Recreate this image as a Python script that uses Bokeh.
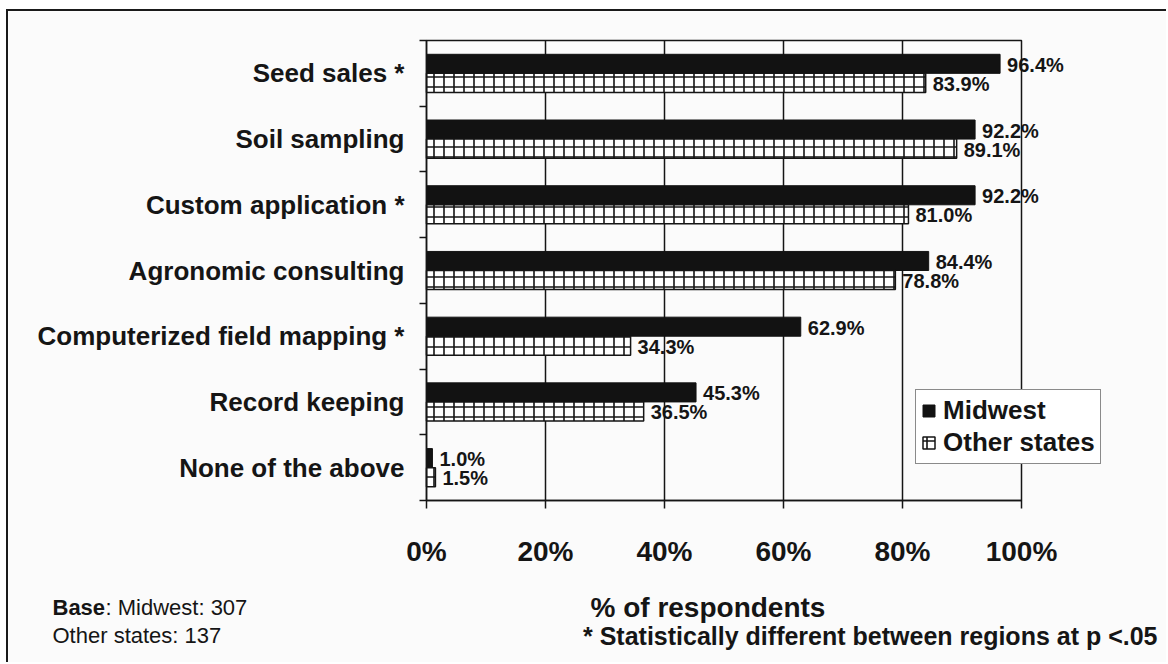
from bokeh.plotting import figure
from bokeh.models import (ColumnDataSource, Range1d, FixedTicker, Legend, LegendItem,
                          Label, PrintfTickFormatter, BoxAnnotation)
from bokeh.core.properties import value
from bokeh.embed import file_html
from bokeh.resources import INLINE

categories = ["Seed sales *", "Soil sampling", "Custom application *", "Agronomic consulting",
              "Computerized field mapping *", "Record keeping", "None of the above"]
midwest = [96.4, 92.2, 92.2, 84.4, 62.9, 45.3, 1.0]
other_states = [83.9, 89.1, 81.0, 78.8, 34.3, 36.5, 1.5]
x_ticks = [0, 20, 40, 60, 80, 100]
series_names = ["Midwest", "Other states"]

FONT = "Liberation Sans"
INK = "#151515"
BG = "#fbfbfb"

# ---- layout (canvas pixels) ----
W, H = 1160, 653              # canvas size
AX_L, AX_R = 418, 1013        # x = 0 and x = 100 in canvas px
AX_T, AX_B = 29, 489          # top and bottom of the plotting area in canvas px
n = len(categories)
ppx = (AX_R - AX_L) / 100.0
ppy = (AX_B - AX_T) / n
x_range = Range1d(-AX_L / ppx, (W - AX_L) / ppx)
y_range = Range1d(-(H - AX_B) / ppy, n + AX_T / ppy)

centers = [n - 0.5 - i for i in range(n)]
boundaries = list(range(0, n + 1))
off = 0.145
bh = 0.29

src_mw = ColumnDataSource(dict(y=[c + off for c in centers], v=midwest,
                               t=[f"{v:.1f}%" for v in midwest]))
src_ot = ColumnDataSource(dict(y=[c - off for c in centers], v=other_states,
                               t=[f"{v:.1f}%" for v in other_states]))

p = figure(width=W, height=H, output_backend="svg", toolbar_location=None,
           x_range=x_range, y_range=y_range, min_border=0,
           min_border_left=0, min_border_right=0, min_border_top=0, min_border_bottom=0,
           background_fill_color=BG, border_fill_color=BG,
           styles={"margin-left": "6px", "margin-top": "9px",
                   "border-top": "2px solid #1a1a1a", "border-left": "2px solid #1a1a1a"})
p.outline_line_color = None
p.xgrid.visible = False
p.ygrid.visible = False

# vertical grid lines inside the plotting area
grid_x = x_ticks[1:-1]
p.segment(x0=grid_x, x1=grid_x, y0=[0] * len(grid_x), y1=[n] * len(grid_x),
          line_color=INK, line_width=1.5)

# x axis
xa = p.xaxis[0]
xa.fixed_location = 0
xa.bounds = (0, 100)
xa.ticker = FixedTicker(ticks=x_ticks, minor_ticks=[])
xa.formatter = PrintfTickFormatter(format="%d%%")
xa.major_tick_in = 0
xa.major_tick_out = 8
xa.minor_tick_line_color = None
xa.axis_line_color = INK
xa.axis_line_width = 1.5
xa.major_tick_line_width = 1.5
xa.major_tick_line_color = INK
xa.major_label_text_font = FONT
xa.major_label_text_font_style = "bold"
xa.major_label_text_font_size = "28px"
xa.major_label_text_color = INK
xa.major_label_standoff = 27

# y axis
ya = p.yaxis[0]
ya.fixed_location = 0
ya.bounds = (0, n)
ya.ticker = FixedTicker(ticks=centers, minor_ticks=boundaries)
ya.major_label_overrides = {c: lab for c, lab in zip(centers, categories)}
ya.major_tick_line_color = None
ya.major_tick_in = 0
ya.major_tick_out = 0
ya.minor_tick_in = 0
ya.minor_tick_out = 7
ya.minor_tick_line_color = INK
ya.minor_tick_line_width = 1.5
ya.axis_line_color = INK
ya.axis_line_width = 1.5
ya.major_label_text_font = FONT
ya.major_label_text_font_style = "bold"
ya.major_label_text_font_size = "26px"
ya.major_label_text_color = INK
ya.major_label_standoff = 15

r_mw = p.hbar(y="y", right="v", left=0, height=bh, source=src_mw,
              fill_color="#121212", line_color="#121212", line_width=1)
r_ot = p.hbar(y="y", right="v", left=0, height=bh, source=src_ot,
              fill_color="white", line_color=INK, line_width=1.5,
              hatch_pattern="+", hatch_color=INK, hatch_scale=10, hatch_weight=1.6)

# plotting-area border
p.add_layout(BoxAnnotation(left=0, right=100, bottom=0, top=n, fill_color=None,
                           line_color=INK, line_alpha=1.0, line_width=1.5))

for s in (src_mw, src_ot):
    p.text(x="v", y="y", text="t", source=s, x_offset=7, y_offset=1,
           text_baseline="middle", text_align="left",
           text_font=value(FONT), text_font_style="bold", text_font_size="20px",
           text_color=INK)

legend = Legend(items=[LegendItem(label=series_names[0], renderers=[r_mw]),
                       LegendItem(label=series_names[1], renderers=[r_ot])],
                location=(907, 200), orientation="vertical",
                label_text_font=FONT, label_text_font_style="bold",
                label_text_font_size="26px", label_text_color=INK,
                glyph_width=15, glyph_height=15, label_standoff=7,
                padding=5, spacing=1, margin=0,
                border_line_color=INK, border_line_width=1.5,
                background_fill_color="white", background_fill_alpha=1)
p.add_layout(legend, "center")

def lab(text, x, y, size, bold=False, align="left"):
    return Label(x=x, y=y, x_units="screen", y_units="screen", text=text,
                 text_font=FONT, text_font_style="bold" if bold else "normal",
                 text_font_size=size, text_color=INK, text_baseline="middle",
                 text_align=align)

p.add_layout(lab("% of respondents", 582, 57, "28px", bold=True))
p.add_layout(lab("* Statistically different between regions at p <.05", 1149, 29, "25px",
                 bold=True, align="right"))
p.add_layout(lab("Base", 44, 57, "22px", bold=True))
p.add_layout(lab(": Midwest: 307", 97, 57, "22px"))
p.add_layout(lab("Other states: 137", 44, 29, "22px"))

open("out.html", "w").write(file_html(p, INLINE))
